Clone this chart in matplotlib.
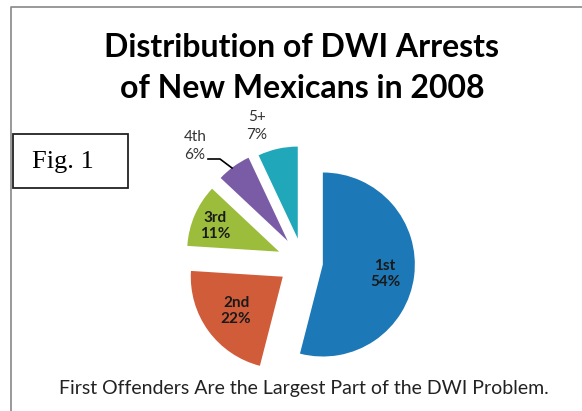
import matplotlib.pyplot as plt

labels = ["1st", "2nd", "3rd", "4th", "5+"]
shares = [54, 22, 11, 6, 7]
colors = ["#1c78b6", "#d05c3a", "#9cbc3c", "#7a5ca6", "#20a8ba"]
explode = [20, 25, 26, 26, 24]  # pixels

title = "Distribution of DWI Arrests\nof New Mexicans in 2008"
footer = "First Offenders Are the Largest Part of the DWI Problem."

W, H = 582, 411
fig = plt.figure(figsize=(W / 100, H / 100), dpi=100)
ax = fig.add_axes([0, 0, 1, 1])

R = 92
cx, cy = 303, H - 262
# explode offsets are in data units (pixels here)
wedges, _ = ax.pie(shares, colors=colors, startangle=90, counterclock=False,
                   radius=R, center=(cx, cy), explode=explode,
                   wedgeprops=dict(linewidth=0))
ax.set_xlim(0, W)
ax.set_ylim(0, H)
ax.set_aspect("equal")
ax.axis("off")

font = "Lato"
# inside labels
inside = {"1st": (385, 274), "2nd": (236, 311), "3rd": (215, 226)}
for lab, val in zip(labels, shares):
    if lab in inside:
        x, y = inside[lab]
        ax.text(x, H - y, f"{lab}\n{val}%", ha="center", va="center",
                fontsize=11, fontweight="bold", family=font, color="#1a1a1a",
                linespacing=1.2)

# outside labels
ax.text(195, H - 146, f"{labels[3]}\n{shares[3]}%", ha="center", va="center",
        fontsize=11, family=font, color="#333333", linespacing=1.45)
ax.text(257, H - 126, f"{labels[4]}\n{shares[4]}%", ha="center", va="center",
        fontsize=11, family=font, color="#333333", linespacing=1.45)
ax.plot([208, 220, 232], [H - 159, H - 159, H - 168], color="black", lw=1.2)

ax.text(302, H - 68, title, ha="center", va="center", fontsize=23,
        fontweight="bold", family=font, linespacing=1.5)
ax.text(304, H - 388, footer, ha="center", va="center", fontsize=14,
        family=font, color="#222222")

# Fig. 1 box
ax.add_patch(plt.Rectangle((13, H - 188), 115, 54, fill=False, lw=1.3,
                           edgecolor="#222222"))
ax.text(63, H - 162, "Fig. 1", ha="center", va="center", fontsize=19,
        family="Liberation Serif")

# frame of scanned figure
ax.plot([11, 11, W], [0, H - 7, H - 7], color="#888888", lw=1.2)

fig.savefig("out.png", dpi=100)
